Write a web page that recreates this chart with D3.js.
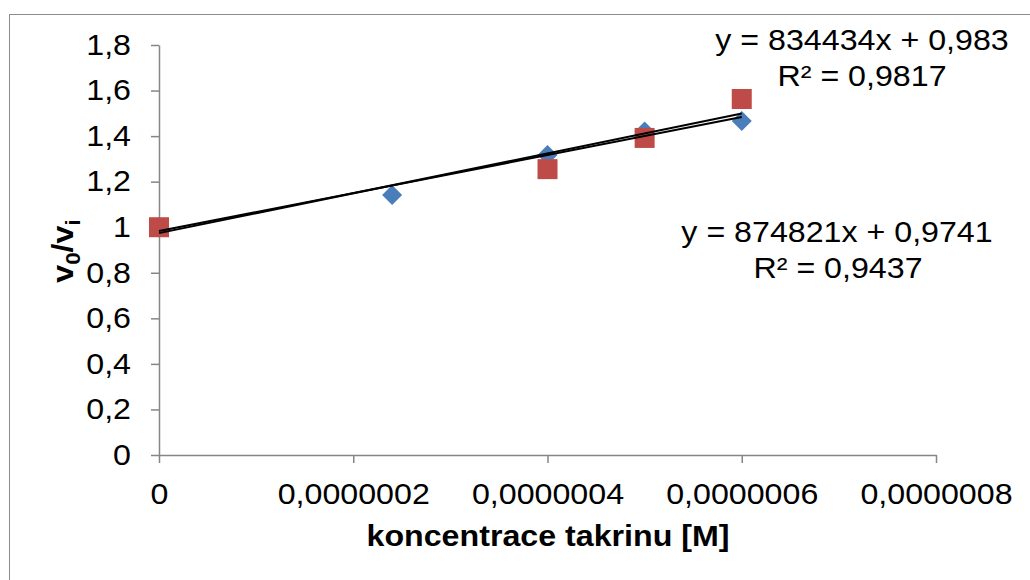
<!DOCTYPE html>
<html>
<head>
<meta charset="utf-8">
<script src="https://cdn.jsdelivr.net/npm/d3@7"></script>
<style>
  body { margin: 0; background: #fff; }
  svg { display: block; font-family: "Liberation Sans", Arial, sans-serif; }
</style>
</head>
<body>
<svg id="chart" width="1030" height="580"></svg>
<script>
// series
const blueX = [0, 2.4e-7, 4e-7, 5e-7, 6e-7];
const blueY = [1, 1.141, 1.317, 1.420, 1.466];
const redX = [0, 4e-7, 5e-7, 6e-7];
const redY = [1, 1.255, 1.392, 1.563];

// trendline coefficients from the labels
const blueTrend = [834434, 0.983];
const redTrend = [874821, 0.9741];
const blueLabel = ["y = 834434x + 0,983", "R² = 0,9817"];
const redLabel = ["y = 874821x + 0,9741", "R² = 0,9437"];

const xTicks = [0, 2e-7, 4e-7, 6e-7, 8e-7];
const yTicks = [0, 0.2, 0.4, 0.6, 0.8, 1, 1.2, 1.4, 1.6, 1.8];

const SX = 1.11;      // text in the picture is a bit stretched sideways
const FS = 29;

const svg = d3.select("#chart");
svg.append("rect").attr("width", 1030).attr("height", 580).attr("fill", "#fff");
svg.append("rect")
  .attr("x", 9.5).attr("y", 14.5).attr("width", 1100).attr("height", 700)
  .attr("fill", "none").attr("stroke", "#8c8c8c").attr("stroke-width", 1);

const x = d3.scaleLinear().domain([0, 8e-7]).range([159, 936]);
const y = d3.scaleLinear().domain([0, 1.8]).range([455, 45]);

const loc = d3.formatLocale({decimal: ",", thousands: " ", grouping: [3], currency: ["", ""]});

const yAxis = svg.append("g")
  .attr("transform", "translate(159,0)")
  .call(d3.axisLeft(y).tickValues(yTicks).tickSize(8).tickSizeOuter(0).tickFormat(loc.format(".1~f")));
yAxis.selectAll("text")
  .attr("x", -28 / SX)
  .attr("transform", `scale(${SX},1)`);

const xAxis = svg.append("g")
  .attr("transform", "translate(0,455)")
  .call(d3.axisBottom(x).tickValues(xTicks).tickSize(8).tickSizeOuter(0).tickFormat(loc.format(".7~f")));
xAxis.selectAll(".tick text")
  .attr("y", 28.5)
  .attr("transform", `scale(${SX},1)`);

[yAxis, xAxis].forEach(a => {
  a.selectAll("path, line").attr("stroke", "#868686").attr("stroke-width", 1.5);
  a.selectAll("text").attr("font-size", FS).attr("fill", "#000")
    .attr("font-family", "Liberation Sans, Arial, sans-serif");
});

function label(px, py, txt, opts = {}) {
  const g = svg.append("g").attr("transform", `translate(${px},${py}) scale(${SX},1)`);
  return g.append("text")
    .attr("text-anchor", opts.anchor || "middle")
    .attr("font-size", opts.size || FS)
    .attr("font-weight", opts.weight || "normal")
    .text(txt);
}

// axis titles
label(548, 546, "koncentrace takrinu [M]", {weight: "bold"});
const yt = svg.append("g").attr("transform", `translate(73,251) rotate(-90) scale(${SX},1)`)
  .append("text").attr("text-anchor", "middle").attr("font-size", FS).attr("font-weight", "bold");
yt.append("tspan").text("v");
yt.append("tspan").attr("dy", 7).attr("font-size", 20).text("0");
yt.append("tspan").attr("dy", -7).text("/v");
yt.append("tspan").attr("dy", 7).attr("font-size", 20).text("i");

// trendlines
function trend(xs, coef) {
  const ext = d3.extent(xs);
  svg.append("line")
    .attr("x1", x(ext[0])).attr("y1", y(coef[0] * ext[0] + coef[1]))
    .attr("x2", x(ext[1])).attr("y2", y(coef[0] * ext[1] + coef[1]))
    .attr("stroke", "#000").attr("stroke-width", 2);
}

// markers
const blue = blueX.map((v, i) => [v, blueY[i]]);
const red = redX.map((v, i) => [v, redY[i]]);

svg.append("g").selectAll("path").data(blue).enter().append("path")
  .attr("d", d3.symbol(d3.symbolSquare, 200)())
  .attr("transform", d => `translate(${x(d[0])},${y(d[1])}) rotate(45)`)
  .attr("fill", "#4A7EBB");

svg.append("g").selectAll("rect").data(red).enter().append("rect")
  .attr("x", d => x(d[0]) - 10).attr("y", d => y(d[1]) - 10)
  .attr("width", 20).attr("height", 20)
  .attr("fill", "#BE4B48");

trend(blueX, blueTrend);
trend(redX, redTrend);

// trendline labels
label(862, 50, blueLabel[0]);
label(862, 86, blueLabel[1]);
label(837, 242, redLabel[0]);
label(838, 278, redLabel[1]);
</script>
</body>
</html>
